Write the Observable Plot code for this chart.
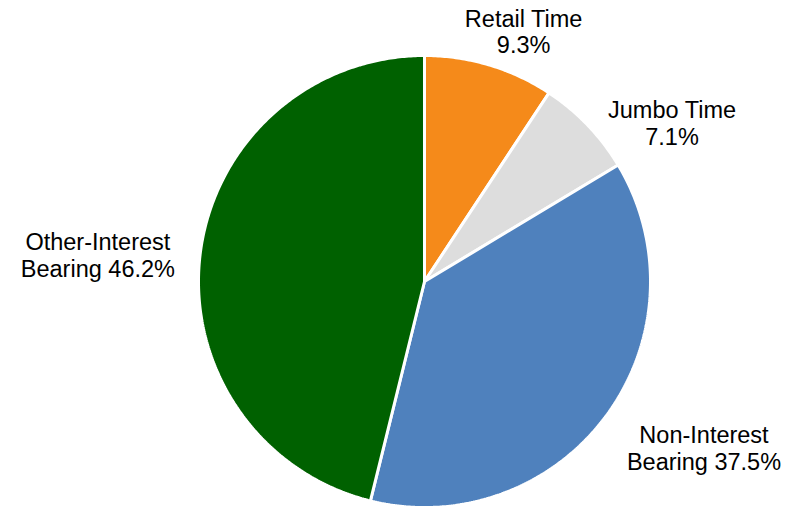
<!DOCTYPE html>
<html>
<head>
<meta charset="utf-8">
<script src="https://cdn.jsdelivr.net/npm/d3@7"></script>
<script src="https://cdn.jsdelivr.net/npm/@observablehq/plot@0.6"></script>
<style>
  html, body { margin: 0; padding: 0; background: #fff; }
  #chart { width: 802px; height: 508px; }
</style>
</head>
<body>
<div id="chart"></div>
<script>
// ---- Data ----
const categories = ["Retail Time", "Jumbo Time", "Non-Interest Bearing", "Other-Interest Bearing"];
const values = [9.3, 7.1, 37.5, 46.2];
const labelFirstLine = ["Retail Time", "Jumbo Time", "Non-Interest", "Other-Interest"];
const labelSecondPrefix = ["", "", "Bearing ", "Bearing "];
const colors = ["#F58A1A", "#DDDDDD", "#4F81BD", "#006100"];

// ---- Layout (styling, not data) ----
const labelRadius = [1.19, 1.30, 1.44, 1.45];
const labelAngleShift = [4.9, 11.2, -5.6, -2.3]; // degrees

const pie = d3.pie().sort(null).value(d => d.value).startAngle(0).endAngle(2 * Math.PI);
const data = categories.map((c, i) => ({category: c, value: values[i], i}));
const arcs = pie(data);

// polygon points for each slice in unit-circle data coordinates
const polyPts = [];
arcs.forEach(a => {
  const c = a.data.category;
  polyPts.push({category: c, x: 0, y: 0});
  const n = Math.max(4, Math.ceil((a.endAngle - a.startAngle) / 0.01));
  for (let k = 0; k <= n; k++) {
    const t = a.startAngle + (a.endAngle - a.startAngle) * k / n;
    polyPts.push({category: c, x: Math.sin(t), y: Math.cos(t)});
  }
  polyPts.push({category: c, x: 0, y: 0});
});

const labels = arcs.map(a => {
  const i = a.data.i;
  const mid = (a.startAngle + a.endAngle) / 2 + labelAngleShift[i] * Math.PI / 180;
  const r = labelRadius[i];
  return {
    x: r * Math.sin(mid),
    y: r * Math.cos(mid),
    text: labelFirstLine[i] + "\n" + labelSecondPrefix[i] + a.data.value.toFixed(1) + "%"
  };
});

const chart = Plot.plot({
  width: 802,
  height: 508,
  margin: 0,
  style: {fontFamily: "'Liberation Sans', Arial, sans-serif", background: "#fff"},
  x: {domain: [-1, 1], range: [198, 650], axis: null},
  y: {domain: [-1, 1], range: [507, 55], axis: null},
  color: {domain: categories, range: colors},
  marks: [
    Plot.line(polyPts, {
      x: "x", y: "y", z: "category", fill: "category",
      stroke: "white", strokeWidth: 3, strokeLinejoin: "miter"
    }),
    Plot.text(labels, {
      x: "x", y: "y", text: "text",
      fontSize: 23.5, lineHeight: 1.14, fill: "#000", textAnchor: "middle"
    })
  ]
});
document.getElementById("chart").appendChild(chart);
</script>
</body>
</html>
